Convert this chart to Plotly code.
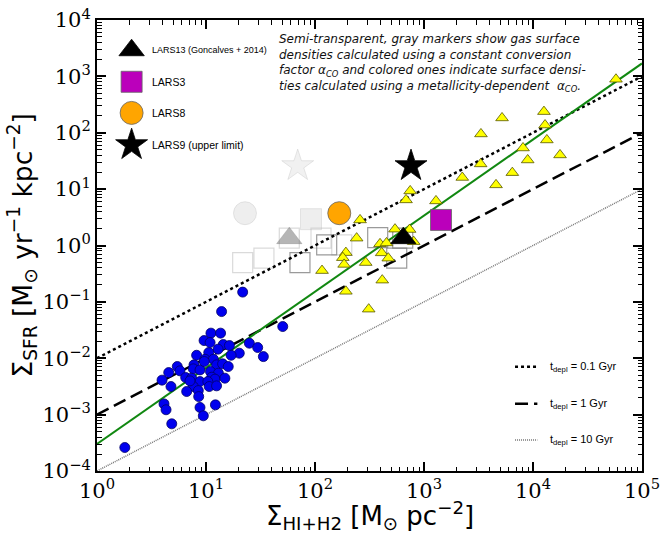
import plotly.graph_objects as go

# ---------------- data ----------------
# blue circles: comparison sample
blue_gas = [21.7, 13.9, 11.1, 13.6, 9.6, 10.9, 14.4, 16.4, 12.9, 10.6, 8.2, 20.2, 25.0, 29.8,
            33.6, 50.6, 9.8, 11.7, 17.0, 5.45, 4.55, 5.77, 3.95, 7.76, 7.65, 8.81, 6.51, 7.39,
            12.5, 14.2, 16.0, 11.0, 13.0, 11.3, 12.1, 14.9, 8.81, 10.4, 7.65, 10.7, 12.5, 4.77,
            6.65, 8.5, 8.57, 4.12, 4.30, 8.81, 12.2, 9.45, 4.85, 1.80, 7.13, 9.65]
blue_sfr = [0.149, 0.0673, 0.0279, 0.0279, 0.0206, 0.019, 0.0175, 0.0168, 0.0145, 0.0126, 0.0113,
            0.0123, 0.0185, 0.0155, 0.0107, 0.0365, 0.0096, 0.0096, 0.0113, 0.00713, 0.00557,
            0.00598, 0.00409, 0.00764, 0.00649, 0.00622, 0.00455, 0.00443, 0.00764, 0.00796,
            0.00713, 0.00581, 0.00544, 0.00462, 0.00426, 0.00443, 0.00386, 0.00386, 0.00315,
            0.00315, 0.00324, 0.00315, 0.00257, 0.00267, 0.00209, 0.00155, 0.00122, 0.00134,
            0.00149, 0.000953, 0.000687, 0.000261, 0.00397, 0.00875]

# yellow triangles
tri_gas = [57700, 12600, 12900, 13400, 5200, 8100, 3330, 17700, 8940, 6460, 4580, 3310, 2245,
           747, 684, 1288, 259, 241, 542, 738, 395, 453, 805, 192, 180, 185, 409, 292, 470,
           116, 414, 192, 311]
tri_sfr = [889, 237, 137, 74.5, 183, 53.7, 95.2, 40.4, 32.9, 19.6, 11.9, 28.0, 16.1,
           9.29, 6.44, 6.18, 2.84, 1.35, 1.95, 1.92, 1.07, 1.11, 1.17, 0.748, 0.608, 0.462,
           0.740, 0.498, 0.596, 0.359, 0.243, 0.154, 0.0743]

# LARS galaxies (metallicity-dependent alpha_CO)
lars_names = ["LARS13 (Goncalves + 2014)", "LARS3", "LARS8", "LARS9 (upper limit)"]
lars_gas = [646, 1432, 167, 760]
lars_sfr = [1.35, 2.84, 3.74, 25.8]
# same galaxies with a constant alpha_CO (semi-transparent gray)
lars_gas_const = [58.1, 91.9, 22.8, 69.4]
lars_sfr_const = [1.35, 2.93, 3.74, 25.8]

# open gray squares (constant alpha_CO, individual regions)
sq_light_gas = [21.7, 34.0, 58.1, 113.5, 176]
sq_light_sfr = [0.498, 0.596, 1.35, 1.35, 1.03]
sq_dark_gas = [72.8, 128, 376, 562, 638]
sq_dark_sfr = [0.498, 1.03, 1.38, 0.596, 1.35]

# fitted relation and depletion times
fit_norm = 10 ** -3.52
fit_slope = 1.35
line_gas = [1, 1e5]
depl_times_gyr = [0.1, 1, 10]
depl_labels = ["t<sub>depl</sub> = 0.1 Gyr", "t<sub>depl</sub> = 1 Gyr", "t<sub>depl</sub> = 10 Gyr"]

x_tick_exp = [0, 1, 2, 3, 4, 5]
y_tick_exp = [-4, -3, -2, -1, 0, 1, 2, 3, 4]

# ---------------- figure ----------------
fig = go.Figure()

# semi-transparent gray markers
fig.add_trace(go.Scatter(x=sq_light_gas, y=sq_light_sfr, mode="markers", showlegend=False,
                         marker=dict(symbol="square-open", size=20, color="rgba(150,150,150,0.35)",
                                     line=dict(width=1.2))))
fig.add_trace(go.Scatter(x=sq_dark_gas, y=sq_dark_sfr, mode="markers", showlegend=False,
                         marker=dict(symbol="square-open", size=20, color="rgba(120,120,120,0.75)",
                                     line=dict(width=1.2))))
const_symbols = ["triangle-up", "square", "circle", "star"]
const_fill = ["rgba(120,120,120,0.55)", "rgba(200,200,200,0.3)", "rgba(200,200,200,0.3)",
              "rgba(200,200,200,0.25)"]
const_edge = ["rgba(120,120,120,0.3)", "rgba(180,180,180,0.3)", "rgba(180,180,180,0.3)",
              "rgba(180,180,180,0.3)"]
const_size = [22, 21, 23, 24]
for i in range(4):
    fig.add_trace(go.Scatter(x=[lars_gas_const[i]], y=[lars_sfr_const[i]], mode="markers",
                             showlegend=False,
                             marker=dict(symbol=const_symbols[i], size=const_size[i],
                                         color=const_fill[i],
                                         line=dict(color=const_edge[i], width=1))))

# lines
styles = [dict(color="black", width=2.5, dash="3px,3px"),
          dict(color="black", width=2.5, dash="13px,6px"),
          dict(color="#777777", width=1.5, dash="1px,1px")]
for t, st in zip(depl_times_gyr, styles):
    fig.add_trace(go.Scatter(x=line_gas, y=[g * 1e6 / (t * 1e9) for g in line_gas],
                             mode="lines", line=st, showlegend=False))
fig.add_trace(go.Scatter(x=line_gas, y=[fit_norm * g ** fit_slope for g in line_gas],
                         mode="lines", line=dict(color="#118811", width=2), showlegend=False))

# blue circles and yellow triangles
fig.add_trace(go.Scatter(x=blue_gas, y=blue_sfr, mode="markers", showlegend=False,
                         marker=dict(symbol="circle", size=10, color="#0000ee",
                                     line=dict(color="#000066", width=0.8))))
fig.add_trace(go.Scatter(x=tri_gas, y=tri_sfr, mode="markers", showlegend=False,
                         marker=dict(symbol="triangle-up", size=11, color="#ffff00",
                                     line=dict(color="#555500", width=0.8))))

# colored LARS markers
lars_colors = ["black", "#bb00bb", "#ffa500", "black"]
lars_size = [22, 21, 23, 24]
lars_edge = ["black", "#666666", "#666666", "black"]
for i in range(4):
    fig.add_trace(go.Scatter(x=[lars_gas[i]], y=[lars_sfr[i]], mode="markers", showlegend=False,
                             marker=dict(symbol=const_symbols[i], size=lars_size[i],
                                         color=lars_colors[i],
                                         line=dict(color=lars_edge[i], width=0.8))))

# ---- legend keys drawn on a separate (invisible) subplot covering the plot area ----
key_y = [0.933, 0.863, 0.794, 0.723]
for i in range(4):
    fig.add_trace(go.Scatter(x=[0.0635], y=[key_y[i]], mode="markers", showlegend=False,
                             xaxis="x2", yaxis="y2",
                             marker=dict(symbol=const_symbols[i], size=lars_size[i],
                                         color=lars_colors[i],
                                         line=dict(color=lars_edge[i], width=0.8))))
    fig.add_annotation(x=0.098, y=key_y[i], xref="x2", yref="y2", text=lars_names[i],
                       showarrow=False, xanchor="left", yanchor="middle",
                       font=dict(family="Liberation Sans", size=9 if i == 0 else 10.5,
                                 color="black"))

line_key_y = [0.231, 0.149, 0.069]
for ly, st, lab in zip(line_key_y, styles, depl_labels):
    fig.add_trace(go.Scatter(x=[0.767, 0.808], y=[ly, ly], mode="lines", line=st,
                             showlegend=False, xaxis="x2", yaxis="y2"))
    fig.add_annotation(x=0.827, y=ly, xref="x2", yref="y2", text=lab, showarrow=False,
                       xanchor="left", yanchor="middle",
                       font=dict(family="Liberation Sans", size=11, color="black"))

note = ("Semi-transparent, gray markers show gas surface<br>"
        "densities calculated using a constant conversion<br>"
        "factor α<sub>CO</sub> and colored ones indicate surface densi-<br>"
        "ties calculated using a metallicity-dependent  α<sub>CO</sub>.")
fig.add_annotation(x=0.330, y=0.978, xref="x2", yref="y2", text="<i>" + note + "</i>",
                   showarrow=False, xanchor="left", yanchor="top", align="left",
                   font=dict(family="DejaVu Sans", size=12, color="#111111"))

# axis titles
fig.add_annotation(x=0.5, y=-0.098, xref="paper", yref="paper", showarrow=False,
                   text="Σ<sub>HI+H2</sub> [M<sub>⊙</sub> pc<sup>−2</sup>]",
                   xanchor="center", yanchor="middle",
                   font=dict(family="DejaVu Sans", size=26, color="black"))
fig.add_annotation(x=-0.1376, y=0.5, xref="paper", yref="paper", showarrow=False,
                   text="Σ<sub>SFR</sub> [M<sub>⊙</sub> yr<sup>−1</sup> kpc<sup>−2</sup>]",
                   textangle=-90, xanchor="center", yanchor="middle",
                   font=dict(family="DejaVu Sans", size=26.5, color="black"))

tick_font = dict(family="DejaVu Serif", size=21, color="black")
def exp_text(e):
    return "10<sup>" + (str(e) if e >= 0 else "\u2212" + str(-e)) + "</sup>"

axis_common = dict(type="log", showgrid=False, zeroline=False, showline=True, linecolor="black",
                   linewidth=2, mirror="ticks", ticks="inside", ticklen=9, tickwidth=1.5,
                   tickcolor="black", tickfont=tick_font, automargin=False,
                   minor=dict(ticks="inside", ticklen=4.5, tickwidth=1.2, tickcolor="black",
                              dtick="D1", showgrid=False))

fig.update_layout(
    width=668, height=534,
    margin=dict(l=97, r=26, t=20, b=63, autoexpand=False),
    paper_bgcolor="white", plot_bgcolor="rgba(0,0,0,0)",
    showlegend=False,
    xaxis=dict(range=[0, 5], tickvals=[10 ** e for e in x_tick_exp],
               ticktext=[exp_text(e) for e in x_tick_exp], ticklabelstandoff=0,
               **axis_common),
    yaxis=dict(range=[-4, 4], tickvals=[10 ** e for e in y_tick_exp],
               ticktext=[exp_text(e) for e in y_tick_exp], ticklabelstandoff=0,
               **axis_common),
    xaxis2=dict(domain=[0, 1], anchor="y2", range=[0, 1], visible=False, fixedrange=True),
    yaxis2=dict(domain=[0, 1], anchor="x2", range=[0, 1], visible=False, fixedrange=True),
)

fig.write_html("out.html", config={"displayModeBar": False},
               post_script="document.body.style.margin='0';document.body.style.overflow='hidden';")
